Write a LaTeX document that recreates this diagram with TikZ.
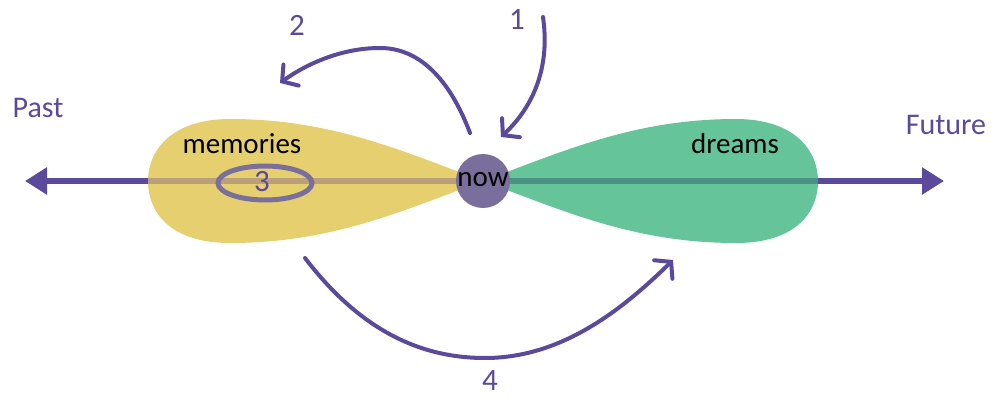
\documentclass[tikz,border=0pt]{standalone}
\usepackage{fontspec}
\setmainfont{Carlito}
\usetikzlibrary{arrows.meta}
\definecolor{pur}{HTML}{5B4A9B}
\definecolor{nowc}{HTML}{7A6F9C}
\definecolor{yel}{HTML}{E6CF6E}
\definecolor{grn}{HTML}{66C49A}
\definecolor{tan}{HTML}{BB9F78}
\definecolor{teal}{HTML}{4B9183}
\tikzset{
  axis/.style={line width=6pt, draw=pur},
  curvearrow/.style={line width=4pt, draw=pur, line cap=round, -{Straight Barb[length=11pt,width=26pt,line cap=round]}},
  word/.style={font=\fontsize{29}{31}\selectfont, text=black, inner sep=0pt},
  timeword/.style={font=\fontsize{30}{32}\selectfont, text=pur, inner sep=0pt},
  num/.style={font=\fontsize{31}{33}\selectfont, text=pur, inner sep=0pt}
}
\begin{document}
\begin{tikzpicture}[x=1pt,y=-1pt]
\useasboundingbox (0,0) rectangle (993,398);
\coordinate (L) at (25,181);
\coordinate (R) at (944,181);
\draw[axis,-{Triangle[length=22pt,width=26pt]}] (483,181) -- (L);
\draw[axis,-{Triangle[length=22pt,width=26pt]}] (483,181) -- (R);
% petals
\path[fill=yel] (483,181) .. controls (400,150) and (330,119) .. (230,119) .. controls (172,119) and (148,150) .. (148,181) .. controls (148,214) and (172,243) .. (230,243) .. controls (330,243) and (400,212) .. (483,181) -- cycle;
\begin{scope}
\clip (483,181) .. controls (400,150) and (330,119) .. (230,119) .. controls (172,119) and (148,150) .. (148,181) .. controls (148,214) and (172,243) .. (230,243) .. controls (330,243) and (400,212) .. (483,181) -- cycle;
\draw[line width=6pt, tan] (140,181) -- (483,181);
\end{scope}
\path[fill=grn] (483,181) .. controls (566,150) and (636,119) .. (736,119) .. controls (794,119) and (818,150) .. (818,181) .. controls (818,214) and (794,243) .. (736,243) .. controls (636,243) and (566,212) .. (483,181) -- cycle;
\begin{scope}
\clip (483,181) .. controls (566,150) and (636,119) .. (736,119) .. controls (794,119) and (818,150) .. (818,181) .. controls (818,214) and (794,243) .. (736,243) .. controls (636,243) and (566,212) .. (483,181) -- cycle;
\draw[line width=6pt, teal] (483,181) -- (826,181);
\end{scope}
% now
\node[circle, fill=nowc, minimum size=54pt, inner sep=0pt] (now) at (483,181) {};
\node[word] (nowt) at (483,180) {now};
% memories
\node[word] (mem) at (242,144) {memories};
\node[word] (dre) at (735,144) {dreams};
\draw[line width=5pt, nowc] (265,183) ellipse [x radius=47pt, y radius=17pt];
\node[num] (n3) at (262,182) {3};
\node[timeword] (past) at (38,108) {Past};
\node[timeword] (fut) at (946,125) {Future};
% arrows
\coordinate (a1s) at (543,17);
\coordinate (a1e) at (501,137);
\draw[curvearrow] (a1s) .. controls (550,65) and (535,105) .. (a1e);
\coordinate (a2s) at (470,133);
\coordinate (a2e) at (280,83);
\draw[curvearrow] (a2s) .. controls (450,80) and (420,48) .. (380,48) .. controls (340,48) and (305,65) .. (a2e);
\coordinate (a4s) at (305,258);
\coordinate (a4e) at (673,260);
\draw[curvearrow] (a4s) .. controls (360,330) and (420,358) .. (485,358) .. controls (560,358) and (620,312) .. (a4e);
\node[num] (n1) at (517,20) {1};
\node[num] (n2) at (297,25) {2};
\node[num] (n4) at (490,381) {4};
\end{tikzpicture}
\end{document}
